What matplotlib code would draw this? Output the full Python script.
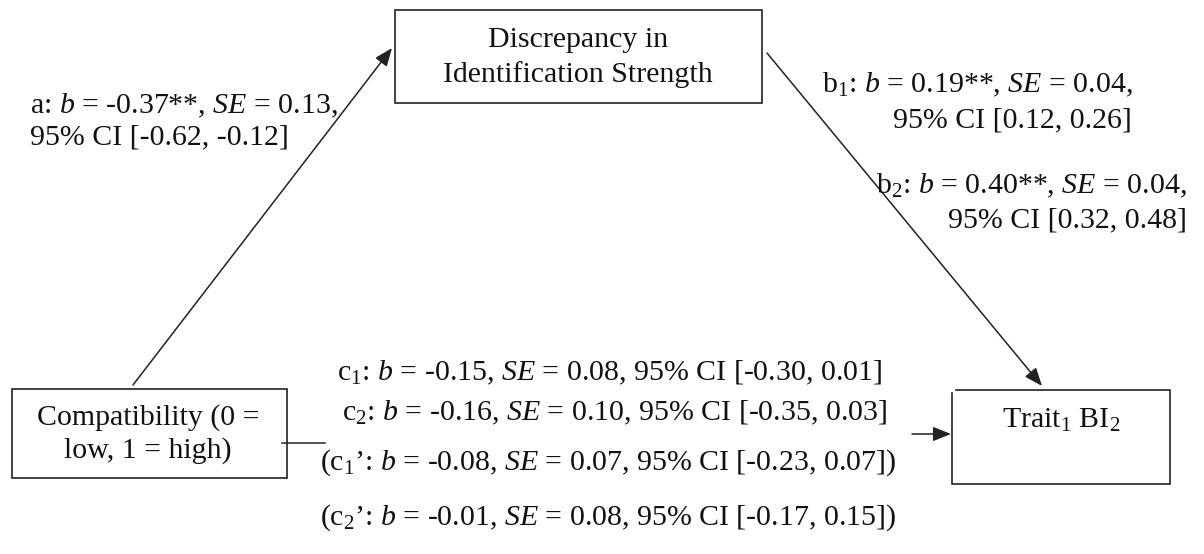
import matplotlib
matplotlib.use("Agg")
import matplotlib.pyplot as plt
from matplotlib.patches import Rectangle

# Mediation model: Compatibility -> Discrepancy -> Trait BI
paths = ["a", "b1", "b2", "c1", "c2", "c1'", "c2'"]
coef = [-0.37, 0.19, 0.40, -0.15, -0.16, -0.08, -0.01]
se = [0.13, 0.04, 0.04, 0.08, 0.10, 0.07, 0.08]
ci_low = [-0.62, 0.12, 0.32, -0.30, -0.35, -0.23, -0.17]
ci_high = [-0.12, 0.26, 0.48, 0.01, 0.03, 0.07, 0.15]
stars = ["**", "**", "**", "", "", "", ""]

plt.rcParams["font.family"] = "Liberation Serif"
plt.rcParams["mathtext.fontset"] = "custom"
plt.rcParams["mathtext.rm"] = "Liberation Serif"
plt.rcParams["mathtext.it"] = "Liberation Serif:italic"

FS = 21.5
INK = "#111111"


def path_name(p):
    # "b1" -> b with subscript 1, trailing ' becomes a closing quote
    prime = p.endswith("'")
    p = p.rstrip("'")
    if len(p) > 1:
        s = r"$\mathrm{%s}_{%s}$" % (p[0], p[1:])
    else:
        s = p
    return s + ("\u2019" if prime else "")


def stat_parts(i):
    head = r"%s: $b$ = %.2f%s, $SE$ = %.2f," % (path_name(paths[i]), coef[i], stars[i], se[i])
    ci = "95%% CI [%.2f, %.2f]" % (ci_low[i], ci_high[i])
    return head, ci


fig = plt.figure(figsize=(12.04, 5.54), dpi=100)
ax = fig.add_axes([0, 0, 1, 1])
ax.set_xlim(0, 1204)
ax.set_ylim(554, 0)
ax.axis("off")

# boxes
box_kw = dict(fill=False, lw=1.2, edgecolor="#222222")
ax.add_patch(Rectangle((395, 10), 367, 93, **box_kw))
ax.add_patch(Rectangle((12, 389), 275, 89, **box_kw))
# outcome box, drawn edge by edge (top-left corner is open)
ax.plot([956, 1170, 1170, 952, 952], [390, 390, 484, 484, 393], color="#222222", lw=1.2,
        solid_joinstyle="miter")

ax.text(578, 47, "Discrepancy in", ha="center", va="baseline", fontsize=FS, color=INK)
ax.text(578, 82, "Identification Strength", ha="center", va="baseline", fontsize=FS, color=INK)
ax.text(148, 425, "Compatibility (0 =", ha="center", va="baseline", fontsize=FS, color=INK)
ax.text(148, 458, "low, 1 = high)", ha="center", va="baseline", fontsize=FS, color=INK)
ax.text(1061, 428, r"$\mathrm{Trait}_1$ $\mathrm{BI}_2$", ha="center", va="baseline",
        fontsize=FS, color=INK)

# arrows
arrow_kw = dict(arrowstyle="-|>,head_length=0.55,head_width=0.22", lw=1.1, color="#222222",
                mutation_scale=20, shrinkA=0, shrinkB=0)
ax.annotate("", xy=(392, 48), xytext=(133, 385), arrowprops=arrow_kw)
ax.annotate("", xy=(1042, 386), xytext=(767, 53), arrowprops=arrow_kw)
ax.plot([282, 325], [443, 443], color="#222222", lw=1.1)
ax.annotate("", xy=(951, 434), xytext=(912, 434), arrowprops=arrow_kw)

# path a
head, ci = stat_parts(0)
ax.text(30, 113, head, ha="left", va="baseline", fontsize=FS, color=INK)
ax.text(30, 144, ci, ha="left", va="baseline", fontsize=FS, color=INK)

# paths b1, b2
head, ci = stat_parts(1)
ax.text(822, 92, head, ha="left", va="baseline", fontsize=FS, color=INK)
ax.text(893, 127, ci, ha="left", va="baseline", fontsize=FS, color=INK)
head, ci = stat_parts(2)
ax.text(1187, 193, head, ha="right", va="baseline", fontsize=FS, color=INK)
ax.text(1187, 227, ci, ha="right", va="baseline", fontsize=FS, color=INK)

# direct paths c and c'
c_pos = [(337, 380), (342, 420), (320, 470), (320, 525)]
for (x, y), i in zip(c_pos, range(3, 7)):
    head, ci = stat_parts(i)
    line = head + " " + ci
    if paths[i].endswith("'"):
        line = "(" + line + ")"
    ax.text(x, y, line, ha="left", va="baseline", fontsize=FS, color=INK)

fig.savefig("out.png", dpi=100)
